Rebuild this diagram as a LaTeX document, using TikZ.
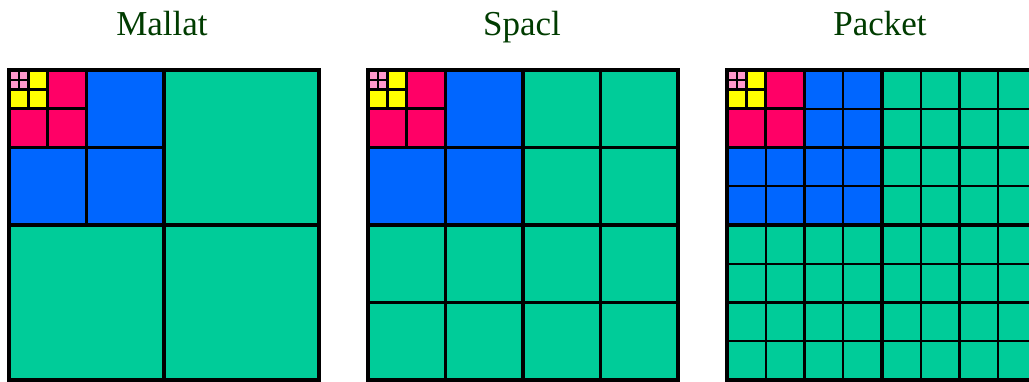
\documentclass[tikz,border=0pt]{standalone}
\usepackage{fontspec}
\setmainfont{Liberation Serif}
\definecolor{cg}{RGB}{0,204,153}
\definecolor{cb}{RGB}{0,102,255}
\definecolor{cr}{RGB}{255,0,102}
\definecolor{cy}{RGB}{255,255,0}
\definecolor{cp}{RGB}{255,153,204}
\definecolor{ctitle}{RGB}{0,60,0}
\tikzset{
  heavy line/.style={line width=3.4pt,draw=black},
  light line/.style={line width=2.3pt,draw=black},
  title/.style={anchor=base,text=ctitle,font=\fontsize{35}{40}\selectfont,inner sep=0pt}
}
\newcommand\mybasepanel[1]{%
  \begin{scope}[shift={(#1,70)}]
    \fill[cg] (0,0) rectangle (310,310);
    \fill[cb] (0,0) rectangle (155,155);
    \fill[cr] (0,0) rectangle (77.5,77.5);
    \fill[cy] (0,0) rectangle (38.75,38.75);
    \fill[cp] (0,0) rectangle (19.375,19.375);
  \end{scope}}
\newcommand\myheavylines[1]{%
  \begin{scope}[shift={(#1,70)}]
    \draw[light line] (9.6875,0) -- (9.6875,19.375) (0,9.6875) -- (19.375,9.6875);
    \draw[heavy line] (19.375,0) -- (19.375,38.75) (0,19.375) -- (38.75,19.375);
    \draw[heavy line] (38.75,0) -- (38.75,77.5) (0,38.75) -- (77.5,38.75);
    \draw[heavy line] (77.5,0) -- (77.5,155) (0,77.5) -- (155,77.5);
    \draw[heavy line] (155,0) -- (155,310) (0,155) -- (310,155);
    \draw[heavy line] (0,0) rectangle (310,310);
  \end{scope}}
\begin{document}
\begin{tikzpicture}[x=1pt,y=-1pt]
\useasboundingbox (0,0) rectangle (1029,381);
\clip (0,0) rectangle (1029,381);
\fill[white] (0,0) rectangle (1029,381);
% titles
\node[title] (tmallat) at (162,35) {Mallat};
\node[title] (tspacl) at (522,35) {Spacl};
\node[title] (tpacket) at (880,35) {Packet};
% Mallat
\mybasepanel{9}
\myheavylines{9}
% Spacl
\mybasepanel{368}
\begin{scope}[shift={(368,70)}]
  \draw[light line] (232.5,0) -- (232.5,310) (155,77.5) -- (310,77.5);
  \draw[light line] (77.5,155) -- (77.5,310) (0,232.5) -- (310,232.5);
\end{scope}
\myheavylines{368}
% Packet
\mybasepanel{727}
\begin{scope}[shift={(727,70)}]
  \foreach \v in {38.75,77.5,116.25}{
    \draw[light line] (\v,155) -- (\v,310);
    \draw[light line] (155,\v) -- (310,\v);
  }
  \foreach \v in {193.75,232.5,271.25}{
    \draw[light line] (\v,0) -- (\v,310);
    \draw[light line] (0,\v) -- (310,\v);
  }
  \draw[light line] (116.25,0) -- (116.25,155) (0,116.25) -- (155,116.25);
  \draw[light line] (38.75,77.5) -- (38.75,155) (77.5,38.75) -- (155,38.75);
\end{scope}
\myheavylines{727}
\end{tikzpicture}
\end{document}
